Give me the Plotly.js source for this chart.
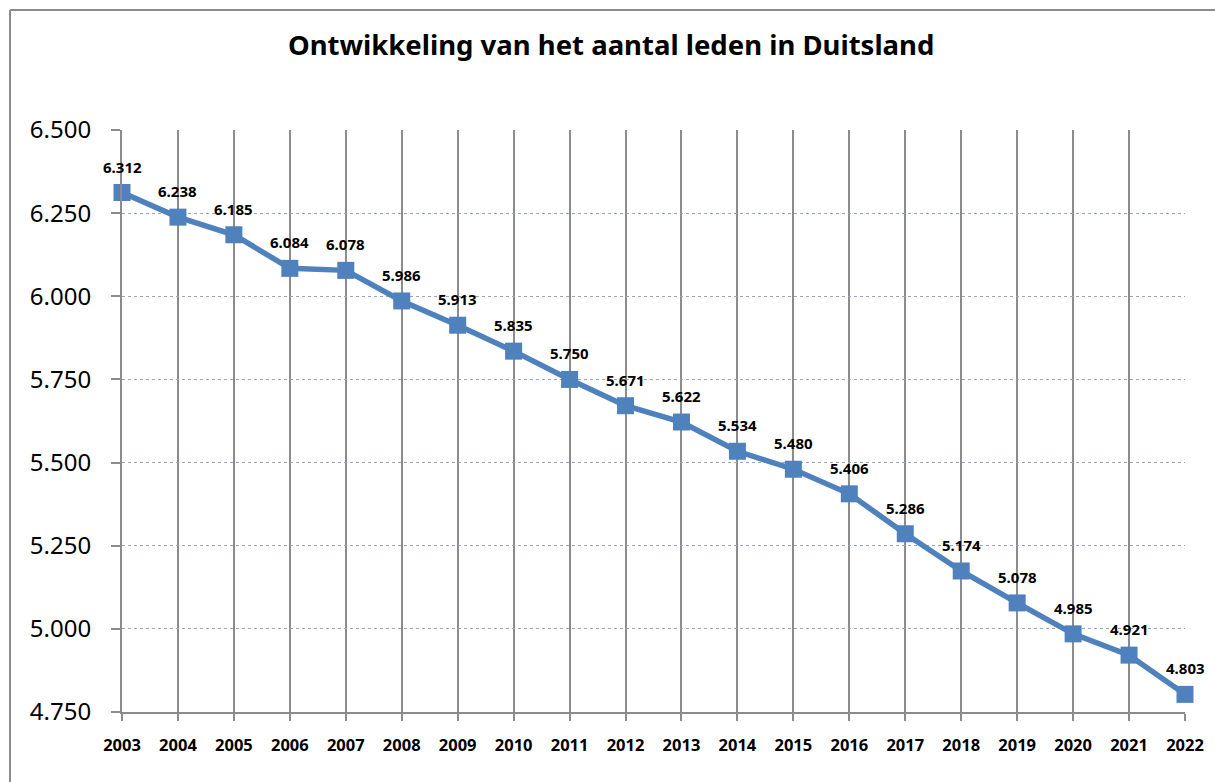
<!DOCTYPE html>
<html>
<head>
<meta charset="utf-8">
<script src="https://cdn.plot.ly/plotly-3.0.1.min.js"></script>
<style>
html,body{margin:0;padding:0;background:#fff;overflow:hidden;}
#chart{width:1215px;height:782px;}
</style>
</head>
<body>
<div id="chart"></div>
<script>
const years = [2003,2004,2005,2006,2007,2008,2009,2010,2011,2012,2013,2014,2015,2016,2017,2018,2019,2020,2021,2022];
const members = [6312,6238,6185,6084,6078,5986,5913,5835,5750,5671,5622,5534,5480,5406,5286,5174,5078,4985,4921,4803];
const yTicks = [4750,5000,5250,5500,5750,6000,6250,6500];
const titleText = 'Ontwikkeling van het aantal leden in Duitsland';

function fmt(v){ return String(v).replace(/\B(?=(\d{3})+(?!\d))/g,'.'); }

const W = 1215, H = 782, M = {l: 122, r: 30, t: 130, b: 70};
const pw = W - M.l - M.r, ph = H - M.t - M.b;
// outer frame (left and top edges only, 10px in from the page corner)
const fx = (10 - M.l) / pw, fy = (H - M.b - 10) / ph;

const trace = {
  x: years, y: members, type: 'scatter', mode: 'lines+markers',
  line: {color: '#4f81bd', width: 5.5},
  marker: {symbol: 'square', size: 17, color: '#4f81bd'},
  cliponaxis: false, hoverinfo: 'skip'
};

const annotations = years.map((yr,i)=>({
  x: yr, y: members[i], text: fmt(members[i]), showarrow: false,
  yshift: 26, font: {family: 'Noto Sans', size: 15, color: '#000', weight: 'bold'}
}));

const layout = {
  width: W, height: H,
  margin: M,
  paper_bgcolor: '#fff', plot_bgcolor: '#fff',
  showlegend: false,
  separators: ',.',
  title: {text: '<b>' + titleText + '</b>', x: 0.503, xanchor: 'center', y: 1 - 45/782, yanchor: 'middle', yref: 'container',
          font: {family: 'Noto Sans', size: 27.5, color: '#000'}},
  xaxis: {
    range: [2003, 2022], tickmode: 'array', tickvals: years, ticktext: years.map(String),
    showgrid: true, gridcolor: '#8c8c8c', gridwidth: 2,
    showline: true, linecolor: '#8c8c8c', linewidth: 2,
    ticks: 'outside', ticklen: 7, tickcolor: '#8c8c8c', tickwidth: 2,
    ticklabelstandoff: 10,
    tickfont: {family: 'Noto Sans', size: 16.5, color: '#000', weight: 'bold'},
    zeroline: false, fixedrange: true
  },
  yaxis: {
    range: [4750, 6500], tickmode: 'array', tickvals: yTicks, ticktext: yTicks.map(fmt),
    showgrid: true, gridcolor: '#9aa6b8', gridwidth: 1, griddash: 'dot',
    showline: true, linecolor: '#8c8c8c', linewidth: 2,
    ticks: 'outside', ticklen: 9, tickcolor: '#8c8c8c', tickwidth: 2,
    ticklabelstandoff: 15,
    tickfont: {family: 'Noto Sans', size: 24, color: '#000'},
    zeroline: false, fixedrange: true
  },
  shapes: [
    {type: 'line', xref: 'paper', yref: 'paper', x0: fx, x1: 1 + (M.r + 5) / pw, y0: fy, y1: fy, line: {color: '#8c8c8c', width: 2}},
    {type: 'line', xref: 'paper', yref: 'paper', x0: fx, x1: fx, y0: fy, y1: -(M.b + 5) / ph, line: {color: '#8c8c8c', width: 2}}
  ],
  annotations: annotations
};

Plotly.newPlot('chart', [trace], layout, {displayModeBar: false, staticPlot: true});
</script>
</body>
</html>
